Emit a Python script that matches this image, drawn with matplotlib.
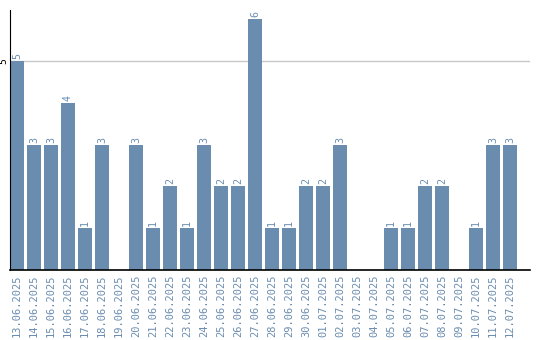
import matplotlib
matplotlib.use('Agg')
import matplotlib.pyplot as plt

dates = ['13.06.2025', '14.06.2025', '15.06.2025', '16.06.2025', '17.06.2025',
         '18.06.2025', '19.06.2025', '20.06.2025', '21.06.2025', '22.06.2025',
         '23.06.2025', '24.06.2025', '25.06.2025', '26.06.2025', '27.06.2025',
         '28.06.2025', '29.06.2025', '30.06.2025', '01.07.2025', '02.07.2025',
         '03.07.2025', '04.07.2025', '05.07.2025', '06.07.2025', '07.07.2025',
         '08.07.2025', '09.07.2025', '10.07.2025', '11.07.2025', '12.07.2025']
counts = [5, 3, 3, 4, 1, 3, 0, 3, 1, 2, 1, 3, 2, 2, 6,
          1, 1, 2, 2, 3, 0, 0, 1, 1, 2, 2, 0, 1, 3, 3]
y_ticks = [5]

bar_color = '#6a8caf'

fig = plt.figure(figsize=(5.4, 3.4), dpi=100)
ax = fig.add_axes([10 / 540, 70 / 340, 520 / 540, 260 / 340])

x = list(range(len(dates)))
ax.bar(x, counts, width=0.82, color=bar_color, zorder=2)

# value labels on top of bars
for xi, v in zip(x, counts):
    if v > 0:
        ax.text(xi, v + 0.05, str(v), rotation=90, ha='center', va='bottom',
                color=bar_color, fontsize=7.2, family='DejaVu Sans Mono')

ax.set_xlim(-0.41, 30.18)
ax.set_ylim(0, 6.22)
ax.set_xticks(x)
ax.set_xticklabels(dates, rotation=90, color=bar_color, fontsize=7.5,
                   family='DejaVu Sans Mono')
ax.set_yticks(y_ticks)
ax.set_yticklabels([str(t) for t in y_ticks], rotation=90, va='center',
                   fontsize=7, family='DejaVu Sans Mono')
ax.tick_params(axis='both', length=0, pad=3)
ax.tick_params(axis='y', pad=1)
for t in y_ticks:
    ax.axhline(t, color='#c8c8c8', linewidth=1, zorder=1)

ax.spines['top'].set_visible(False)
ax.spines['right'].set_visible(False)
ax.spines['left'].set_color('black')
ax.spines['bottom'].set_color('black')
ax.spines['bottom'].set_linewidth(1.2)

fig.savefig('out.png', dpi=100)
